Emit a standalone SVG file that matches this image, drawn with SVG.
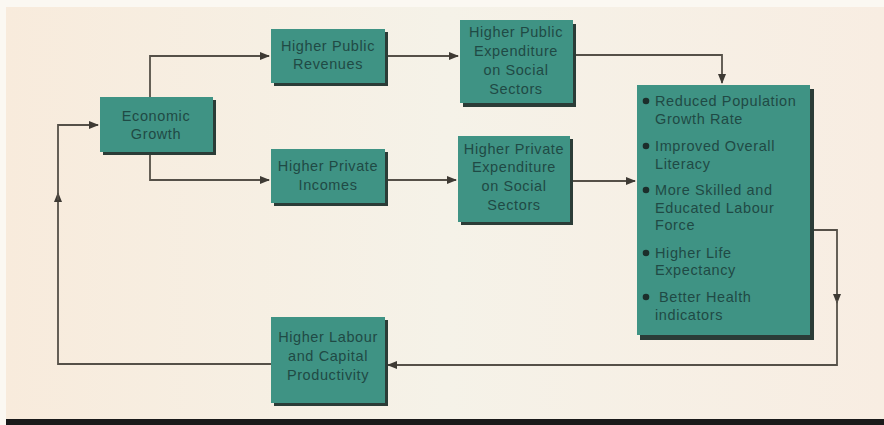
<svg xmlns="http://www.w3.org/2000/svg" width="884" height="425" viewBox="0 0 884 425">
<defs>
<marker id="ah" markerWidth="10" markerHeight="8" refX="9" refY="4" orient="auto" markerUnits="userSpaceOnUse">
<path d="M0,0 L10,4 L0,8 Z" fill="#3e3a34"/>
</marker>
<linearGradient id="bg" x1="0" y1="0" x2="1" y2="0">
<stop offset="0" stop-color="#f8ebdc"/>
<stop offset="0.5" stop-color="#f5f2e8"/>
<stop offset="1" stop-color="#f8ede2"/>
</linearGradient>
</defs>
<style>
.box{fill:#3f9384;}
.sh{fill:#2b3c37;}
.t{font-family:"Liberation Sans",Arial,sans-serif;font-size:14.5px;letter-spacing:0.6px;fill:#1f4a45;text-anchor:middle;}
.tl{font-family:"Liberation Sans",Arial,sans-serif;font-size:14.5px;letter-spacing:0.6px;fill:#1f4a45;}
.c{fill:none;stroke:#555048;stroke-width:1.8;}
.dot{fill:#1c2e2b;}
</style>
<rect x="0" y="0" width="884" height="425" fill="#fbf8f2"/>
<rect x="6" y="7" width="878" height="413" fill="url(#bg)"/>
<rect x="6" y="419" width="878" height="6" fill="#1a1a1a"/>

<g id="connectors">
<path class="c" d="M150,97 V56 H269" marker-end="url(#ah)"/>
<path class="c" d="M150,152 V180 H269" marker-end="url(#ah)"/>
<path class="c" d="M385,56 H458" marker-end="url(#ah)"/>
<path class="c" d="M385,180 H456" marker-end="url(#ah)"/>
<path class="c" d="M575,55 H722 V83" marker-end="url(#ah)"/>
<path class="c" d="M572,181 H635" marker-end="url(#ah)"/>
<path class="c" d="M813,230 H837 V303" marker-end="url(#ah)"/>
<path class="c" d="M837,300 V365 H388" marker-end="url(#ah)"/>
<path class="c" d="M271,364 H58 V193" marker-end="url(#ah)"/>
<path class="c" d="M58,200 V125 H98" marker-end="url(#ah)"/>
</g>

<g id="economic-growth">
<rect class="sh" x="103" y="100" width="113" height="55"/>
<rect class="box" x="100" y="97" width="113" height="55"/>
<text class="t" x="156" y="121">Economic</text>
<text class="t" x="156" y="139">Growth</text>
</g>

<g id="public-revenues">
<rect class="sh" x="274" y="32" width="114" height="54"/>
<rect class="box" x="271" y="29" width="114" height="54"/>
<text class="t" x="328" y="51">Higher Public</text>
<text class="t" x="328" y="69">Revenues</text>
</g>

<g id="private-incomes">
<rect class="sh" x="274" y="152" width="114" height="54"/>
<rect class="box" x="271" y="149" width="114" height="54"/>
<text class="t" x="328" y="171">Higher Private</text>
<text class="t" x="328" y="190">Incomes</text>
</g>

<g id="public-expenditure">
<rect class="sh" x="463" y="24" width="113" height="83"/>
<rect class="box" x="460" y="20" width="113" height="83"/>
<text class="t" x="516" y="37">Higher Public</text>
<text class="t" x="516" y="56">Expenditure</text>
<text class="t" x="516" y="75">on Social</text>
<text class="t" x="516" y="94">Sectors</text>
</g>

<g id="private-expenditure">
<rect class="sh" x="461" y="139" width="112" height="86"/>
<rect class="box" x="458" y="136" width="112" height="86"/>
<text class="t" x="514" y="154">Higher Private</text>
<text class="t" x="514" y="172">Expenditure</text>
<text class="t" x="514" y="191">on Social</text>
<text class="t" x="514" y="210">Sectors</text>
</g>

<g id="outcomes">
<rect class="sh" x="640" y="89" width="174" height="251"/>
<rect class="box" x="637" y="85" width="173" height="250"/>
<circle class="dot" cx="646" cy="101" r="3.3"/>
<text class="tl" x="655" y="106">Reduced Population</text>
<text class="tl" x="655" y="124">Growth Rate</text>
<circle class="dot" cx="646" cy="146" r="3.3"/>
<text class="tl" x="655" y="151">Improved Overall</text>
<text class="tl" x="655" y="169">Literacy</text>
<circle class="dot" cx="646" cy="190" r="3.3"/>
<text class="tl" x="655" y="195">More Skilled and</text>
<text class="tl" x="655" y="213">Educated Labour</text>
<text class="tl" x="655" y="230">Force</text>
<circle class="dot" cx="646" cy="253" r="3.3"/>
<text class="tl" x="655" y="258">Higher Life</text>
<text class="tl" x="655" y="275">Expectancy</text>
<circle class="dot" cx="646" cy="297" r="3.3"/>
<text class="tl" x="659" y="302">Better Health</text>
<text class="tl" x="655" y="320">indicators</text>
</g>

<g id="productivity">
<rect class="sh" x="274" y="320" width="114" height="86"/>
<rect class="box" x="271" y="317" width="114" height="86"/>
<text class="t" x="328" y="342">Higher Labour</text>
<text class="t" x="328" y="361">and Capital</text>
<text class="t" x="328" y="380">Productivity</text>
</g>
</svg>
